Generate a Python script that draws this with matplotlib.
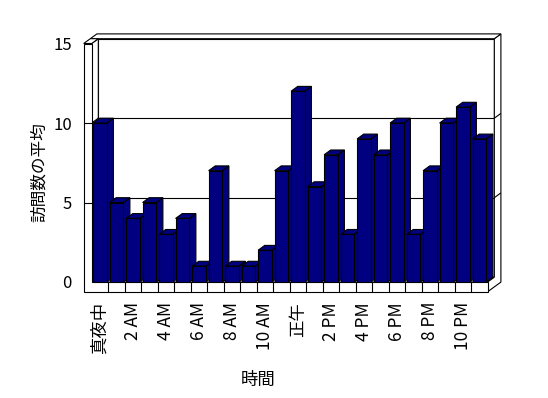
import matplotlib
matplotlib.use("Agg")
import matplotlib.pyplot as plt
from matplotlib.patches import Polygon

plt.rcParams['font.family'] = ['Noto Sans CJK JP', 'DejaVu Sans']

# ---- data ----
hours = list(range(24))
visits = [10, 5, 4, 5, 3, 4, 1, 7, 1, 1, 2, 7, 12, 6, 8, 3, 9, 8, 10, 3, 7, 10, 11, 9]
tick_hours = [0, 2, 4, 6, 8, 10, 12, 14, 16, 18, 20, 22]
tick_labels = ['真夜中', '2 AM', '4 AM', '6 AM', '8 AM', '10 AM', '正午',
               '2 PM', '4 PM', '6 PM', '8 PM', '10 PM']
y_ticks = [0, 5, 10, 15]
y_label = '訪問数の平均'
x_label = '時間'

# ---- style ----
BAR = '#000080'
EDGE = 'black'
LW = 0.8
W, H = 548, 398

fig = plt.figure(figsize=(W / 100, H / 100), dpi=100)
ax = fig.add_axes([91.7 / W, (H - 282) / H, 396 / W, 238.5 / H])
ax.set_xlim(-0.5, 23.5)
ax.set_ylim(0, 15)
for s in ax.spines.values():
    s.set_visible(False)

# depth vector (data units)
dx, dy = 0.4, 0.302
xl, xr = -0.5, 23.5
xo = -0.985
yb = -0.61
top = 15


def poly(pts, z, fc='white'):
    p = Polygon(pts, closed=True, facecolor=fc, edgecolor=EDGE, lw=LW,
                clip_on=False, zorder=z, joinstyle='miter')
    ax.add_patch(p)


def line(xs, ys, z):
    ax.plot(xs, ys, color=EDGE, lw=LW, clip_on=False, zorder=z,
            solid_capstyle='butt')


# back wall inner face
poly([(xl + dx, dy), (xr + dx, dy), (xr + dx, top + dy), (xl + dx, top + dy)], 1)
for v in y_ticks[1:-1]:
    line([xl + dx, xr + dx], [v + dy, v + dy], 1.1)
# left wall inner face
poly([(xl, 0), (xl, top), (xl + dx, top + dy), (xl + dx, dy)], 1.2)
for v in y_ticks[1:-1]:
    line([xl, xl + dx], [v, v + dy], 1.3)
# floor top face
poly([(xl, 0), (xr, 0), (xr + dx, dy), (xl + dx, dy)], 1.4)
# right faces of back wall + floor
poly([(xr, 0), (xr, yb), (xr + 2 * dx, yb + 2 * dy), (xr + 2 * dx, top + 2 * dy),
      (xr + dx, top + dy), (xr + dx, dy)], 1.5)
for v in y_ticks[1:-1]:
    line([xr + dx, xr + 2 * dx], [v + dy, v + 2 * dy], 1.6)
# top faces
poly([(xo + dx, top + dy), (xr + dx, top + dy), (xr + 2 * dx, top + 2 * dy),
      (xo + 2 * dx, top + 2 * dy)], 1.7)
poly([(xo, top), (xl, top), (xl + dx, top + dy), (xo + dx, top + dy)], 1.8)
# front L face (left wall + floor front)
poly([(xo, top), (xl, top), (xl, 0), (xr, 0), (xr, yb), (xo, yb)], 1.9)
for k in range(1, 24):
    line([xl + k, xl + k], [yb, 0], 2.0)
for v in y_ticks[1:-1]:
    line([xo, xl], [v, v], 2.0)

# bars
bw = 0.83
bars = ax.bar(hours, visits, width=bw, color=BAR, edgecolor=EDGE, lw=LW,
              zorder=3)
for i, (h, v) in enumerate(zip(hours, visits)):
    z = 3 + i * 0.01
    L, R = h - bw / 2, h + bw / 2
    poly([(R, 0), (R + dx, dy), (R + dx, v + dy), (R, v)], z, BAR)
    poly([(L, v), (R, v), (R + dx, v + dy), (L + dx, v + dy)], z, BAR)
    bars[i].set_zorder(z + 0.005)

# ticks and labels
ax.set_yticks(y_ticks)
ax.set_yticklabels([str(t) for t in y_ticks], fontsize=12)
ax.set_xticks(tick_hours)
ax.set_xticklabels(tick_labels, rotation=90, fontsize=12.5, va='top')
ax.tick_params(axis='y', length=0, pad=14.2)
ax.tick_params(axis='x', length=0, pad=14.4)

ax.set_ylabel(y_label, fontsize=12, va='center')
ax.yaxis.set_label_coords((39.0 - 91.7) / 396, (282 - 172) / 238.5)
ax.set_xlabel(x_label, fontsize=12.5, va='center')
ax.xaxis.set_label_coords((258 - 91.7) / 396, (282 - 380) / 238.5)

fig.savefig('out.png', dpi=100)
